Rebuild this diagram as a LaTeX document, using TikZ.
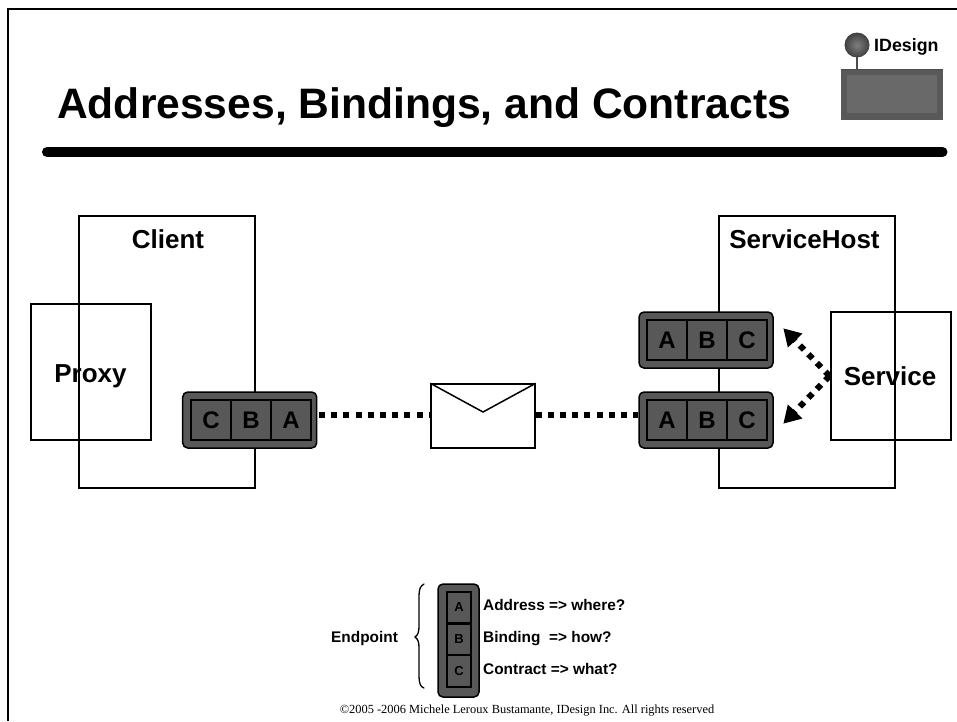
\documentclass[tikz,border=0pt]{standalone}
\usepackage{fontspec}
\setmainfont{Liberation Sans}
\newfontfamily\footfont{Liberation Serif}
\usetikzlibrary{arrows.meta}
\definecolor{epgray}{RGB}{88,88,88}
\tikzset{
  frameline/.style={line width=1.7pt},
  box/.style={draw,line width=1.5pt},
  boxlabel/.style={anchor=base,font=\bfseries\fontsize{26}{26}\selectfont,inner sep=0pt},
  endpoint/.style={draw,line width=1.5pt,rounded corners=5pt,fill=epgray},
  cell/.style={draw,line width=1.3pt,fill=epgray,minimum width=40pt,minimum height=40pt,inner sep=0pt,font=\bfseries\fontsize{24}{24}\selectfont},
  smallcell/.style={draw,line width=1.8pt,fill=epgray,minimum width=24pt,minimum height=31.5pt,inner sep=0pt,font=\bfseries\fontsize{13}{13}\selectfont},
  wire/.style={line width=6pt,dash pattern=on 6pt off 6.2pt},
  notewire/.style={wire,-{Triangle[length=17pt,width=19pt]}},
  legend/.style={anchor=base west,inner sep=0pt,font=\bfseries\fontsize{15.4}{15.4}\selectfont}
}
\begin{document}
\begin{tikzpicture}[x=1pt,y=-1pt]
  \useasboundingbox (0,0) rectangle (957,721);
  \draw[frameline] (8,721) -- (8,9) -- (957,9);

  % title
  \node[anchor=base west,inner sep=0pt,font=\bfseries\fontsize{42.6}{42.6}\selectfont] (title) at (57,118) {Addresses, Bindings, and Contracts};
  \draw[line width=10pt,line cap=round] (47,152) -- (942.5,152);

  % logo
  \fill[black!65] (841,69) rectangle (943,119.5);
  \fill[epgray!90!white] (847,75) rectangle (937,113);
  \draw[line width=1.5pt,black!70] (841,69.5) -- (943,69.5);
  \draw[line width=1.5pt,black!70] (857,55) -- (857,69);
  \shade[inner color=black!50,outer color=black!75] (857,45) circle (12.5pt);
  \node[anchor=base west,inner sep=0pt,font=\bfseries\fontsize{17.8}{17.8}\selectfont] (logo) at (874,51) {IDesign};

  % client side
  \node[box,minimum width=176pt,minimum height=272pt,inner sep=0pt] (client) at (167,352) {};
  \node[box,minimum width=120pt,minimum height=136pt,inner sep=0pt] (proxy) at (91,372) {};
  \node[boxlabel] (clientlabel) at (168,248) {Client};
  \node[boxlabel] (proxylabel) at (90.5,382) {Proxy};

  % service side
  \node[box,minimum width=176pt,minimum height=272pt,inner sep=0pt] (host) at (807,352) {};
  \node[box,minimum width=120pt,minimum height=128pt,inner sep=0pt] (service) at (891,376) {};
  \node[boxlabel] (hostlabel) at (804.5,248) {ServiceHost};
  \node[boxlabel] (servicelabel) at (890,385) {Service};

  % endpoints
  \node[endpoint,minimum width=134pt,minimum height=56pt] (epclient) at (249.7,420) {};
  \node[cell] (c1) at (211,420) {C};
  \node[cell] (c2) at (251,420) {B};
  \node[cell] (c3) at (291,420) {A};

  \node[endpoint,minimum width=134pt,minimum height=56pt] (epone) at (706,340) {};
  \node[cell] (d1) at (667,340) {A};
  \node[cell] (d2) at (707,340) {B};
  \node[cell] (d3) at (747,340) {C};

  \node[endpoint,minimum width=134pt,minimum height=56pt] (eptwo) at (706,420) {};
  \node[cell] (e1) at (667,420) {A};
  \node[cell] (e2) at (707,420) {B};
  \node[cell] (e3) at (747,420) {C};

  % message
  \node[draw,line width=1.5pt,fill=white,minimum width=104pt,minimum height=64pt,inner sep=0pt] (msg) at (483,416) {};
  \draw[line width=1.5pt] (msg.north west) -- (483,412) -- (msg.north east);

  \coordinate (wa) at (319,415);
  \coordinate (wb) at (535.5,415);
  \draw[wire] (wa) -- (msg.west |- wa);
  \draw[wire] (wb) -- (eptwo.west |- wb);

  % calls
  \coordinate (callfrom) at (829.5,376);
  \coordinate (callup) at (783.3,328.3);
  \coordinate (calldown) at (783.3,423.7);
  \draw[notewire] (callfrom) -- (callup);
  \draw[notewire] (callfrom) -- (calldown);

  % legend
  \node[endpoint,minimum width=41pt,minimum height=113pt] (eplegend) at (458.5,640.5) {};
  \node[smallcell] (la) at (459,607.5) {A};
  \node[smallcell] (lb) at (459,639.5) {B};
  \node[smallcell] (lc) at (459,671) {C};
  \node[legend] (laddr) at (483,610) {Address => where?};
  \node[legend] (lbind) at (483,642) {Binding\ \ => how?};
  \node[legend] (lcontr) at (483,674) {Contract => what?};
  \node[legend] (eplabel) at (331,642) {Endpoint};
  \draw[line width=1.3pt,line cap=round] (424,584) .. controls (420,586) and (419,590) .. (419,596) -- (419,626) .. controls (419,632) and (418,635) .. (415,637) .. controls (418,639) and (419,642) .. (419,648) -- (419,676) .. controls (419,682) and (420,687) .. (424,688);

  % footer
  \node[anchor=base,inner sep=0pt,font=\footfont\fontsize{12.4}{13}\selectfont] (foot) at (527,713) {©2005 -2006 Michele Leroux Bustamante, IDesign Inc. All rights reserved};
\end{tikzpicture}
\end{document}
